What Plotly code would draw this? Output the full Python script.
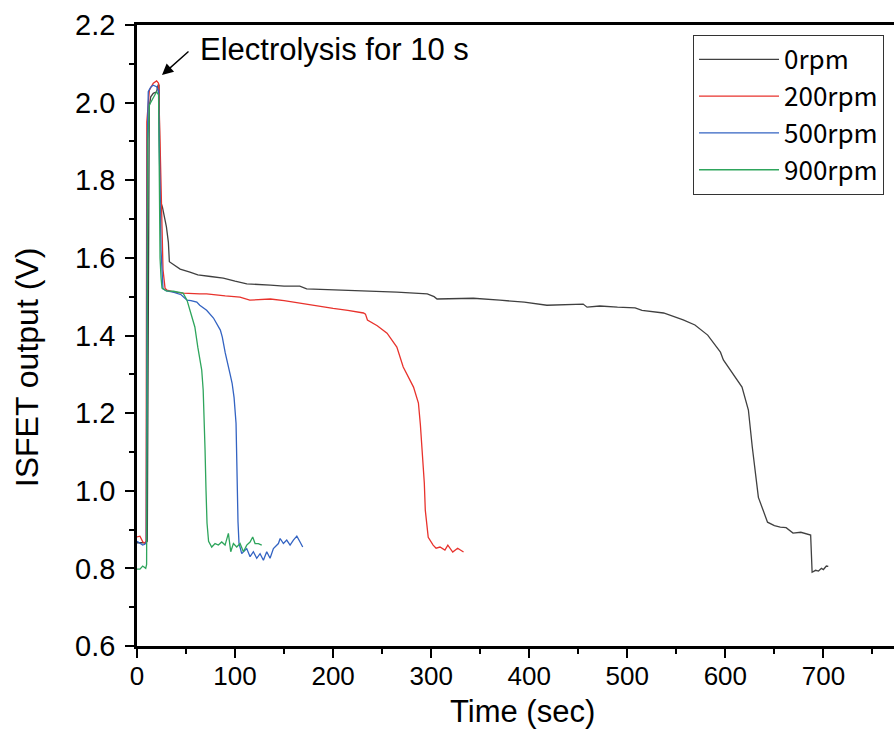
import plotly.graph_objects as go

# ---------------- data ----------------
t_0rpm = [0, 5, 9, 10.5, 12.5, 14, 16.6, 20, 21.5, 22.5, 23.5, 26, 30, 32, 33, 36, 44, 54, 62, 75, 88,
          100, 112, 136, 150, 163, 166, 173, 200, 235, 265, 296, 303, 306, 320, 343, 370, 395, 418, 440,
          455, 459, 472, 490, 508, 515, 537, 557, 569, 582, 595, 598, 608, 617, 623.5, 627.5, 633.7, 643,
          650, 656, 662, 669, 677, 685, 687, 688.5, 692, 695, 698, 700, 703, 705]
v_0rpm = [0.866, 0.865, 0.866, 0.87, 1.99, 2.015, 2.024, 2.028, 2.045, 2.045, 1.75, 1.73, 1.68, 1.64,
          1.59, 1.585, 1.571, 1.563, 1.556, 1.552, 1.548, 1.54, 1.533, 1.530, 1.527, 1.527, 1.527, 1.52,
          1.518, 1.514, 1.512, 1.507, 1.500, 1.494, 1.495, 1.496, 1.491, 1.486, 1.478, 1.479, 1.481,
          1.473, 1.476, 1.473, 1.471, 1.465, 1.458, 1.44, 1.427, 1.401, 1.357, 1.337, 1.30, 1.267, 1.208,
          1.112, 0.983, 0.919, 0.91, 0.906, 0.905, 0.891, 0.893, 0.888, 0.886, 0.79, 0.795, 0.793, 0.80,
          0.797, 0.806, 0.805]

t_200rpm = [0, 3, 6, 8, 9.2, 10, 12.6, 16.6, 20, 22, 23.5, 25.5, 26.5, 28.6, 30.6, 38, 47, 64, 71, 90,
            105, 115, 136, 150, 166, 185, 200, 215, 231, 233, 235, 245, 255, 265, 271.5, 282, 287, 289,
            291, 293, 294, 297, 302, 305, 309, 314, 317, 322, 327, 333]
v_200rpm = [0.881, 0.883, 0.868, 0.865, 0.87, 1.95, 2.032, 2.05, 2.056, 2.05, 1.90, 1.628, 1.57, 1.522,
            1.517, 1.512, 1.509, 1.507, 1.507, 1.502, 1.499, 1.491, 1.494, 1.490, 1.483, 1.476, 1.47,
            1.465, 1.458, 1.455, 1.44, 1.425, 1.406, 1.37, 1.319, 1.267, 1.226, 1.17, 1.105, 1.02, 0.95,
            0.88, 0.86, 0.852, 0.855, 0.847, 0.86, 0.842, 0.852, 0.842]

t_500rpm = [0, 3, 5.8, 8, 9.5, 10.5, 11.5, 14, 16.5, 20, 22, 23, 24.5, 26.5, 30, 37, 45, 51, 55, 61, 64,
            71, 78, 85, 87, 90, 92, 95, 97, 99, 101, 102, 103, 104, 106.8, 111.9, 115.3, 118.7, 122.1,
            125.5, 128.9, 132.3, 135.7, 139.1, 144.2, 146, 149.3, 152.7, 156.1, 159.5, 163, 166.3, 169]
v_500rpm = [0.870, 0.865, 0.860, 0.862, 0.868, 1.9, 2.028, 2.04, 2.045, 2.041, 2.03, 1.85, 1.62, 1.52,
            1.515, 1.512, 1.505, 1.491, 1.49, 1.486, 1.478, 1.465, 1.445, 1.414, 1.396, 1.355, 1.329,
            1.30, 1.277, 1.24, 1.174, 1.02, 0.92, 0.865, 0.838, 0.851, 0.830, 0.843, 0.826, 0.838, 0.821,
            0.843, 0.826, 0.851, 0.864, 0.877, 0.864, 0.873, 0.860, 0.873, 0.883, 0.868, 0.855]

t_900rpm = [0, 3, 5.8, 7.5, 8.9, 9.8, 11, 12.6, 16.6, 20, 22, 23, 23.5, 24.5, 25.5, 30, 37, 47, 51, 54,
            59, 62, 64.3, 66, 67.5, 68.4, 69.4, 70.4, 71.4, 73, 76.2, 79.6, 83, 86.4, 89.8, 93.2, 95.6,
            98.3, 101.7, 105.1, 108.5, 111.9, 115.3, 118, 120.4, 123.8, 127.2]
v_900rpm = [0.798, 0.798, 0.806, 0.803, 0.800, 0.81, 1.9, 1.994, 2.011, 2.028, 2.02, 1.80, 1.60, 1.55,
            1.522, 1.515, 1.514, 1.509, 1.491, 1.465, 1.422, 1.37, 1.337, 1.311, 1.259, 1.20, 1.105, 1.0,
            0.917, 0.87, 0.855, 0.864, 0.860, 0.868, 0.860, 0.890, 0.843, 0.864, 0.855, 0.864, 0.843,
            0.860, 0.868, 0.881, 0.864, 0.864, 0.860]

series_names = ["0rpm", "200rpm", "500rpm", "900rpm"]
series_t = [t_0rpm, t_200rpm, t_500rpm, t_900rpm]
series_v = [v_0rpm, v_200rpm, v_500rpm, v_900rpm]
series_colors = ["#404040", "#e8322c", "#3363c2", "#2ea55c"]

x_ticks = [0, 100, 200, 300, 400, 500, 600, 700]
y_ticks = [0.6, 0.8, 1.0, 1.2, 1.4, 1.6, 1.8, 2.0, 2.2]

x_title = "Time (sec)"
y_title = "ISFET output (V)"
annot_text = "Electrolysis for 10 s"
annot_point = (25.5, 2.071)
annot_text_pos = (62.5, 2.136)

# ---------------- figure ----------------
FONT = "Liberation Sans, Arial, sans-serif"
fig = go.Figure()
for name, t, v, c in zip(series_names, series_t, series_v, series_colors):
    fig.add_trace(go.Scatter(x=t, y=v, mode="lines", name=name,
                             line=dict(color=c, width=1.3)))

fig.update_layout(
    width=894, height=749,
    margin=dict(l=137, r=0, t=25, b=103),
    paper_bgcolor="white", plot_bgcolor="white",
    font=dict(family=FONT, color="black", size=26),
    showlegend=True,
    legend=dict(x=0.7345, y=0.984, xanchor="left", yanchor="top",
                bgcolor="white", bordercolor="#333333", borderwidth=1,
                itemwidth=80,
                font=dict(family="Noto Sans CJK JP, sans-serif", size=26, color="black")),
)
fig.update_xaxes(
    range=[0, 772], tickmode="array", tickvals=x_ticks,
    ticks="outside", ticklen=9, tickwidth=2, tickcolor="black",
    showline=True, linewidth=2.5, linecolor="black", mirror=True,
    showgrid=False, zeroline=False,
    tickfont=dict(size=26), ticklabelstandoff=-4,
    minor=dict(dtick=50, tick0=0, ticks="outside", ticklen=5, tickwidth=2, tickcolor="black"),
)
fig.update_yaxes(
    range=[0.6, 2.2], tickmode="array", tickvals=y_ticks, tickformat=".1f",
    ticks="outside", ticklen=9, tickwidth=2, tickcolor="black",
    showline=True, linewidth=2.5, linecolor="black", mirror=False,
    showgrid=False, zeroline=False,
    tickfont=dict(size=29), ticklabelstandoff=4,
    minor=dict(dtick=0.1, tick0=0.6, ticks="outside", ticklen=5, tickwidth=2, tickcolor="black"),
)

# axis titles placed as text, positioned like the reference
fig.add_annotation(x=0.5086, y=-0.106, xref="paper", yref="paper", text=x_title,
                   showarrow=False, xanchor="center", yanchor="middle",
                   font=dict(family=FONT, size=31, color="black"))
fig.add_annotation(x=-0.1453, y=0.449, xref="paper", yref="paper", text=y_title,
                   textangle=-90, showarrow=False, xanchor="center", yanchor="middle",
                   font=dict(family=FONT, size=32, color="black"))

fig.add_annotation(x=annot_point[0], y=annot_point[1], xref="x", yref="y",
                   text="", showarrow=True, arrowhead=2, arrowsize=1.6, arrowwidth=1.4,
                   arrowcolor="black", ax=28, ay=-25)
fig.add_annotation(x=annot_text_pos[0], y=annot_text_pos[1], xref="x", yref="y",
                   text=annot_text, showarrow=False, xanchor="left", yanchor="middle",
                   font=dict(family=FONT, size=31, color="black"))

fig.write_html("out.html")
